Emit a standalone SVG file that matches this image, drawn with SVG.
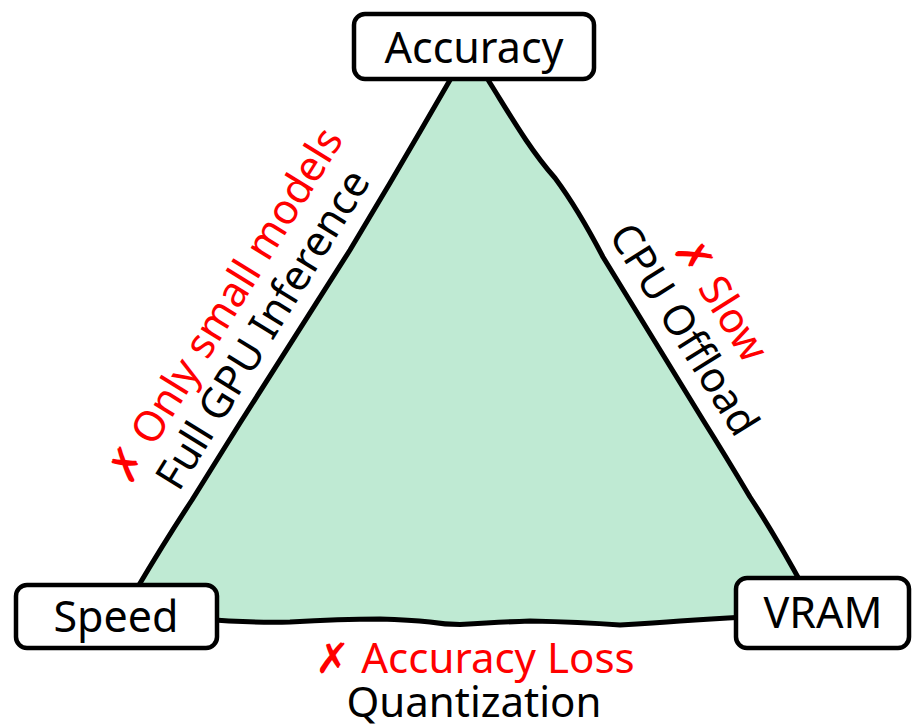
<svg xmlns="http://www.w3.org/2000/svg" width="912" height="728" viewBox="0 0 912 728">
<style>
.box{fill:#ffffff;stroke:#000000;stroke-width:4.5}
.edge{fill:none;stroke:#000000;stroke-width:5;stroke-linecap:round;stroke-linejoin:round}
.lbl{font-family:"Noto Sans","Liberation Sans",sans-serif;font-size:42px;text-anchor:middle}
.node{font-family:"Noto Sans","Liberation Sans",sans-serif;font-size:43px;text-anchor:middle;fill:#000000}
.red{fill:#ff0000}
.blk{fill:#000000}
</style>
<rect width="912" height="728" fill="#ffffff"/>
<g id="triangle">
<path d="M468,45 L450,80 Q420,132 390,183 L350,250 Q295,337 240,423 L192,500 Q165,541 136,590 L200,618 Q250,623 290,622 Q340,619 380,619 Q410,620 430,622 Q445,624.5 460,624.5 Q500,622 530,621 Q580,622 620,625 Q655,623 680,621 Q710,619 735,618 L805,590 Q775,535 750,497 Q725,455 703,420 Q653,338 603,257 C590,232 575,205 555,178 C530,150 510,115 490,83 Z" fill="#bfead3" stroke="none"/>
</g>
<g id="connectors">
<path class="edge" d="M468,45 L450,80 Q420,132 390,183 L350,250 Q295,337 240,423 L192,500 Q165,541 136,590"/>
<path class="edge" d="M468,45 L490,83 C510,115 530,150 555,178 C575,205 590,232 603,257 Q653,338 703,420 Q725,455 750,497 Q775,535 805,590"/>
<path class="edge" d="M200,619 Q250,623 290,622 Q340,619 380,619 Q410,620 430,622 Q445,624.5 460,624.5 Q500,622 530,621 Q580,622 620,625 Q655,623 680,621 Q710,619 745,617"/>
</g>
<g id="edge-labels">
<text class="lbl red" transform="translate(237,313) rotate(-58.3)">✗ Only small models</text>
<text class="lbl blk" transform="translate(275,337) rotate(-58.3)">Full GPU Inference</text>
<text class="lbl blk" transform="translate(672,337) rotate(57.9)">CPU Offload</text>
<text class="lbl red" transform="translate(709,307) rotate(57.9)">✗ Slow</text>
<text class="lbl red" x="475" y="673">✗ Accuracy Loss</text>
<text class="lbl blk" x="474" y="717">Quantization</text>
</g>
<g id="node-accuracy">
<rect class="box" x="354" y="14" width="240" height="65" rx="11"/>
<text class="node" x="474" y="63">Accuracy</text>
</g>
<g id="node-speed">
<rect class="box" x="16" y="585" width="201" height="63" rx="11"/>
<text class="node" x="116" y="632">Speed</text>
</g>
<g id="node-vram">
<rect class="box" x="736" y="578" width="173" height="70" rx="11"/>
<text class="node" x="823" y="628">VRAM</text>
</g>
</svg>
